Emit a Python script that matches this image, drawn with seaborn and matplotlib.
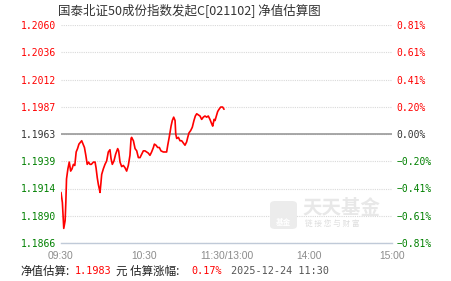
import numpy as np
import pandas as pd
import matplotlib
matplotlib.use("Agg")
import matplotlib.pyplot as plt
from matplotlib.patches import FancyBboxPatch
import seaborn as sns

# ---------------- data ----------------
title = "国泰北证50成份指数发起C[021102] 净值估算图"

minutes = [0, 1, 2, 3, 3.5, 4, 5, 6, 7, 8, 9, 10, 11, 12, 13, 15, 16, 17, 18, 19,
           20, 21, 22, 23.5, 24.7, 25.4, 26.3, 27.1, 27.8, 28.3, 29, 29.5, 30.7, 31.9,
           33.1, 34.3, 35.5, 36.3, 37.2, 38.4, 39.6, 41.1, 41.8, 42.8, 44, 45.2, 46.4,
           47.6, 48.8, 50, 50.8, 51.2, 52.5, 53.7, 54.9, 56.1, 57.3, 58.5, 59.7, 60.9,
           62.1, 63.3, 64.5, 65.7, 67, 67.7, 68.9, 70.1, 71.3, 72.5, 74.2, 75.4, 76.6,
           77.4, 78.3, 79, 79.8, 80.7, 81.7, 82.7, 83.2, 83.9, 85.1, 86.3, 87.5, 88.7,
           89.9, 91.1, 91.9, 92.8, 94, 95.2, 96.4, 97.4, 98.4, 99.6, 100.8, 102, 103.2,
           104.4, 105.6, 106.8, 108, 109.3, 110, 111, 111.7, 112.4, 113.6, 114.6, 115.8,
           117.2, 118.2]
nav = [1.1911, 1.1902, 1.1879, 1.1886, 1.1902, 1.1923, 1.1932, 1.1938, 1.1930, 1.1932,
       1.1936, 1.1935, 1.1947, 1.1950, 1.1954, 1.1957, 1.1954, 1.1951, 1.1944, 1.1936,
       1.1938, 1.1936, 1.1936, 1.1938, 1.1938, 1.1933, 1.1924, 1.1918, 1.1914, 1.1911,
       1.1920, 1.1927, 1.1932, 1.1936, 1.1939, 1.1947, 1.1949, 1.1941, 1.1936, 1.1939,
       1.1945, 1.1950, 1.1948, 1.1938, 1.1934, 1.1935, 1.1933, 1.1930, 1.1935, 1.1944,
       1.1959, 1.1960, 1.1957, 1.1950, 1.1948, 1.1942, 1.1942, 1.1945, 1.1948, 1.1948,
       1.1947, 1.1946, 1.1944, 1.1947, 1.1951, 1.1954, 1.1953, 1.1951, 1.1951, 1.1948,
       1.1947, 1.1947, 1.1947, 1.1953, 1.1959, 1.1964, 1.1970, 1.1975, 1.1978, 1.1975,
       1.1963, 1.1959, 1.1960, 1.1957, 1.1957, 1.1955, 1.1953, 1.1956, 1.1960, 1.1964,
       1.1966, 1.1969, 1.1975, 1.1979, 1.1981, 1.1980, 1.1979, 1.1976, 1.1978, 1.1979,
       1.1978, 1.1979, 1.1976, 1.1972, 1.1970, 1.1976, 1.1975, 1.1978, 1.1983, 1.1985,
       1.1987, 1.1987, 1.1985]

base_nav = 1.1963
y_min, y_max = 1.1866, 1.2060
left_labels = ["1.1866", "1.1890", "1.1914", "1.1939", "1.1963",
               "1.1987", "1.2012", "1.2036", "1.2060"]
right_labels = ["\u22120.81%", "\u22120.61%", "\u22120.41%", "\u22120.20%", "0.00%",
                "0.20%", "0.41%", "0.61%", "0.81%"]
x_ticks = [0, 30, 60, 90, 120, 150, 180, 210, 240]
x_labels = ["09:30", "", "10:30", "", "11:30/13:00", "", "14:00", "", "15:00"]

est_nav = "1.1983"
est_pct = "0.17%"
est_time = "2025-12-24 11:30"

# ---------------- style ----------------
sns.set_style("white")
plt.rcParams['font.family'] = ['Noto Sans CJK SC', 'DejaVu Sans']

RED = "#ff0000"
GREEN = "#008000"
BLACK = "#333333"

fig = plt.figure(figsize=(4.51, 2.81), dpi=100)
W, H = 451, 281
ax = fig.add_axes([61 / W, 1 - 243 / H, 331 / W, 218 / H])

df = pd.DataFrame({"minute": minutes, "nav": nav})
sns.lineplot(data=df, x="minute", y="nav", ax=ax, color=RED, linewidth=1.2,
             estimator=None, sort=False)

ax.set_xlim(0, 240)
ax.set_ylim(y_min, y_max)
yt = np.linspace(y_min, y_max, len(left_labels))

# grid (dotted) and base line
for v in yt:
    ax.axhline(v, color="#d9d9d9", lw=0.8, ls=(0, (1, 1)), zorder=0)
ax.axhline(base_nav, color="#999999", lw=1.2, zorder=1)

for s in ["top", "left", "right"]:
    ax.spines[s].set_visible(False)
ax.spines["bottom"].set_color("#c0cad8")
ax.spines["bottom"].set_linewidth(1.0)

ax.set_xlabel("")
ax.set_ylabel("")
ax.set_xticks(x_ticks)
ax.set_xticklabels(x_labels, family="Liberation Sans")
ax.tick_params(axis="x", direction="out", length=4, width=1, color="#c0cad8",
               labelcolor="#8c8c8c", labelsize=7.4, pad=1.5)

def lab_color(i):
    return RED if i > 4 else (GREEN if i < 4 else BLACK)

ax.set_yticks(yt)
ax.set_yticklabels(left_labels, family="DejaVu Sans Mono", fontsize=7)
ax.tick_params(axis="y", length=0, pad=3.5)
for i, t in enumerate(ax.get_yticklabels()):
    t.set_color(lab_color(i))

ax2 = ax.twinx()
ax2.set_ylim(y_min, y_max)
ax2.set_yticks(yt)
ax2.set_yticklabels(right_labels, family="DejaVu Sans Mono", fontsize=7)
ax2.tick_params(axis="y", length=0, pad=3)
for i, t in enumerate(ax2.get_yticklabels()):
    t.set_color(lab_color(i))
for s in ax2.spines.values():
    s.set_visible(False)

# ---------------- watermark ----------------
logo = FancyBboxPatch((270 / W, 1 - 229 / H), 27 / W, 28 / H,
                      boxstyle="round,pad=0,rounding_size=0.012",
                      transform=fig.transFigure, facecolor="#ececec",
                      edgecolor="none", zorder=0)
fig.patches.append(logo)
fig.text(283.5 / W, 1 - 222 / H, "基金", ha="center", va="center", fontsize=5.5,
         color="white", fontweight="bold")
fig.text(302 / W, 1 - 208 / H, "天天基金", ha="left", va="center", fontsize=14,
         color="#e8e8e8", fontweight="bold")
fig.text(305 / W, 1 - 224 / H, "链 接 您 与 财 富", ha="left", va="center",
         fontsize=5.5, color="#dedede")

# ---------------- title & footer ----------------
fig.text(58 / W, 1 - 11.5 / H, title, ha="left", va="center", fontsize=9,
         color="#333333")

fy = 1 - 271.5 / H
fig.text(20 / W, fy, "净值估算:", ha="left", va="center", fontsize=8.3, color="#222222")
fig.text(75 / W, fy, est_nav, ha="left", va="center", fontsize=7.3,
         color=RED, family="DejaVu Sans Mono")
fig.text(116 / W, fy, "元 估算涨幅:", ha="left", va="center", fontsize=8.3,
         color="#222222")
fig.text(191 / W, fy, est_pct, ha="left", va="center", fontsize=7.3,
         color=RED, family="DejaVu Sans Mono")
fig.text(231 / W, fy, est_time, ha="left", va="center", fontsize=7.3,
         color="#555555", family="DejaVu Sans Mono")

fig.savefig("out.png", dpi=100)
